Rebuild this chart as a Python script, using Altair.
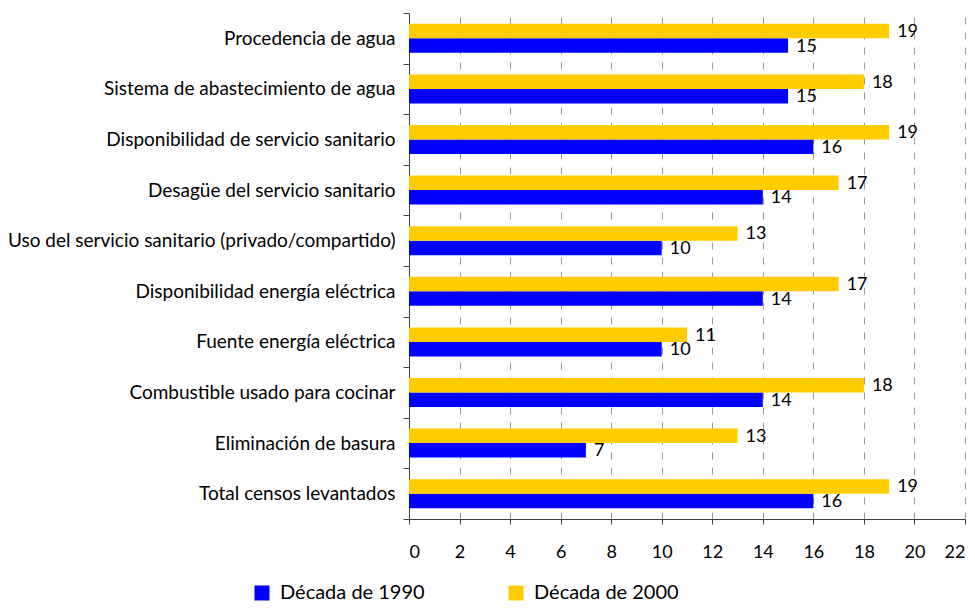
import altair as alt
import pandas as pd

categories = [
    "Procedencia de agua",
    "Sistema de abastecimiento de agua",
    "Disponibilidad de servicio sanitario",
    "Desagüe del servicio sanitario",
    "Uso del servicio sanitario (privado/compartido)",
    "Disponibilidad energía eléctrica",
    "Fuente energía eléctrica",
    "Combustible usado para cocinar",
    "Eliminación de basura",
    "Total censos levantados",
]
values_1990 = [15, 15, 16, 14, 10, 14, 10, 14, 7, 16]
values_2000 = [19, 18, 19, 17, 13, 17, 11, 18, 13, 19]
series = ["Década de 1990", "Década de 2000"]
colors = ["#0000FF", "#FFCC00"]
x_ticks = list(range(0, 23, 2))

rows = []
for c, v1, v2 in zip(categories, values_1990, values_2000):
    rows.append({"cat": c, "serie": series[0], "v": v1})
    rows.append({"cat": c, "serie": series[1], "v": v2})
df = pd.DataFrame(rows)

FONT = "Lato"

y_enc = alt.Y(
    "cat:N",
    sort=categories,
    title=None,
    scale=alt.Scale(paddingInner=0, paddingOuter=0),
    axis=alt.Axis(
        tickBand="extent",
        tickSize=6,
        labelPadding=8,
        labelFontSize=19,
        labelFont=FONT,
        labelColor="#000000",
        domainColor="#404040",
        tickColor="#404040",
        grid=False,
        labelLimit=500,
    ),
)
yoff = alt.YOffset(
    "serie:N",
    sort=[series[1], series[0]],
    scale=alt.Scale(paddingInner=0, paddingOuter=0.745),
)
x_enc = alt.X(
    "v:Q",
    title=None,
    scale=alt.Scale(domain=[0, 22], nice=False),
    axis=alt.Axis(
        values=x_ticks,
        tickSize=5,
        labelPadding=19,
        labelFontSize=18,
        labelFont=FONT,
        labelColor="#000000",
        domainColor="#404040",
        tickColor="#404040",
        grid=True,
        gridColor="#9a9a9a",
        gridDash=[7, 8],
        gridWidth=1,
    ),
)

bars = alt.Chart(df).mark_bar().encode(
    y=y_enc,
    yOffset=yoff,
    x=x_enc,
    color=alt.Color(
        "serie:N",
        scale=alt.Scale(domain=series, range=colors),
        legend=alt.Legend(
            title=None,
            orient="none",
            legendX=-157,
            legendY=570,
            direction="horizontal",
            columns=2,
            columnPadding=81,
            symbolType="square",
            symbolSize=225,
            symbolStrokeWidth=0,
            symbolOpacity=1,
            labelFontSize=20,
            labelFont=FONT,
            labelColor="#000000",
            labelOffset=8,
        ),
    ),
)

labels = alt.Chart(df).mark_text(
    align="left", baseline="middle", dx=8, dy=1, fontSize=18, font=FONT, color="#000000"
).encode(
    y=alt.Y("cat:N", sort=categories),
    yOffset=alt.YOffset("serie:N", sort=[series[1], series[0]]),
    x="v:Q",
    text="v:Q",
)

chart = (
    alt.layer(bars, labels)
    .properties(
        width=556,
        height=506,
        autosize=alt.AutoSizeParams(type="none"),
        padding={"left": 401, "top": 5, "right": 2, "bottom": 85},
    )
    .configure_view(stroke=None)
)

chart.save("out.html", embed_options={"renderer": "svg", "actions": False})
